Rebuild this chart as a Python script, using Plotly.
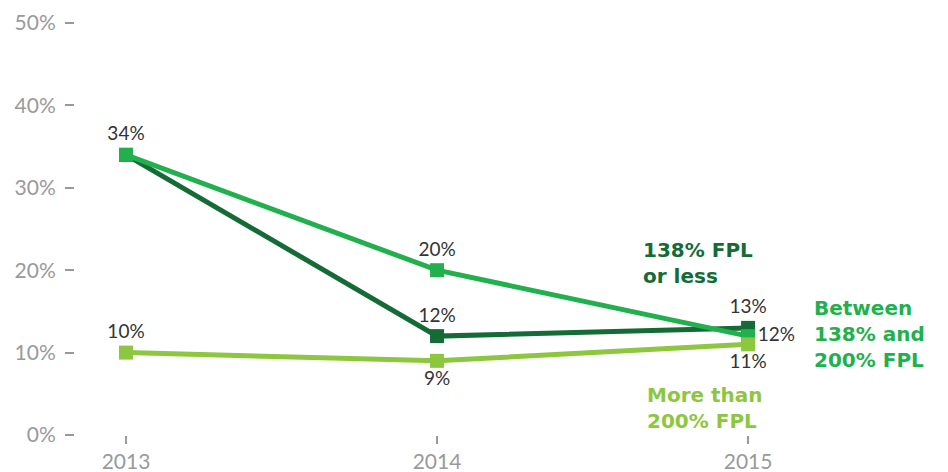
import plotly.graph_objects as go

years = [2013, 2014, 2015]
fpl_138_or_less = [34, 12, 13]
fpl_138_to_200 = [34, 20, 12]
fpl_over_200 = [10, 9, 11]
y_ticks = [0, 10, 20, 30, 40, 50]
y_tick_labels = [f"{v}%" for v in y_ticks]

c_dark = "#146b36"
c_mid = "#22b04f"
c_light = "#8dc63f"
label_font = dict(family="Lato, Roboto, sans-serif", size=19, color="#333333")
tick_font = dict(family="Lato, Roboto, sans-serif", size=21, color="#9a9a9a")
name_font = "DejaVu Sans, sans-serif"

fig = go.Figure()

fig.add_trace(go.Scatter(
    x=years, y=fpl_138_or_less, mode="lines+markers+text",
    line=dict(color=c_dark, width=5), marker=dict(symbol="square", size=14, color=c_dark),
    text=[f"{v}%" for v in fpl_138_or_less],
    textposition=["top center", "top center", "top center"],
    textfont=label_font, cliponaxis=False, showlegend=False))

fig.add_trace(go.Scatter(
    x=years, y=fpl_138_to_200, mode="lines+markers+text",
    line=dict(color=c_mid, width=5), marker=dict(symbol="square", size=14, color=c_mid),
    text=["", f"{fpl_138_to_200[1]}%", f"{fpl_138_to_200[2]}%"],
    textposition=["top center", "top center", "middle right"],
    textfont=label_font, cliponaxis=False, showlegend=False))

fig.add_trace(go.Scatter(
    x=years, y=fpl_over_200, mode="lines+markers+text",
    line=dict(color=c_light, width=5), marker=dict(symbol="square", size=14, color=c_light),
    text=[f"{v}%" for v in fpl_over_200],
    textposition=["top center", "bottom center", "bottom center"],
    textfont=label_font, cliponaxis=False, showlegend=False))

fig.add_annotation(x=2014.655, y=20.9, xref="x", yref="y", xanchor="left", yanchor="middle",
                   text="<b>138% FPL<br>or less</b>", showarrow=False, align="left",
                   font=dict(family=name_font, size=20, color=c_dark))
fig.add_annotation(x=2015.205, y=12.2, xref="x", yref="y", xanchor="left", yanchor="middle",
                   text="<b>Between<br>138% and<br>200% FPL</b>", showarrow=False, align="left",
                   font=dict(family=name_font, size=20, color=c_mid))
fig.add_annotation(x=2014.668, y=3.3, xref="x", yref="y", xanchor="left", yanchor="middle",
                   text="<b>More than<br>200% FPL</b>", showarrow=False, align="left",
                   font=dict(family=name_font, size=20, color=c_light))

# the page body has an 8px default margin; margins compensate for it
fig.update_layout(
    width=948, height=472,
    margin=dict(l=67, r=16, t=15, b=45),
    plot_bgcolor="white", paper_bgcolor="white",
    xaxis=dict(range=[2012.836, 2015.617], tickmode="array", tickvals=years,
               ticktext=[str(y) for y in years], showgrid=False, zeroline=False,
               showline=False, ticks="outside", ticklen=8, tickwidth=2, tickcolor="#999999",
               tickfont=tick_font, automargin=False),
    yaxis=dict(range=[0, 50], tickmode="array", tickvals=y_ticks, ticktext=y_tick_labels,
               showgrid=False, zeroline=False, showline=False, ticks="outside",
               ticklen=9, tickwidth=2, tickcolor="#999999", ticklabelstandoff=5,
               tickfont=tick_font, automargin=False),
)

fig.write_html("out.html")
